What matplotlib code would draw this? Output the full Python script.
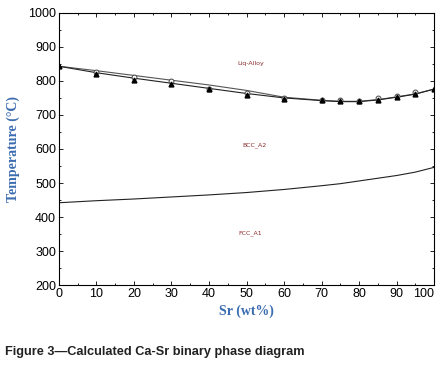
import matplotlib
matplotlib.use('Agg')
import matplotlib.pyplot as plt
import numpy as np
from matplotlib.ticker import MultipleLocator

# liquidus / solidus (calculated lines)
x_line = [0, 10, 20, 30, 40, 50, 60, 70, 75, 80, 85, 90, 95, 100]
liq_line = [843, 830, 816, 802, 788, 772, 752, 743, 740, 740, 745, 753, 762, 776]
sol_line = [843, 824, 808, 793, 778, 763, 750, 742, 739, 739, 744, 752, 761, 776]

# experimental points
x_tri = [0, 10, 20, 30, 40, 50, 60, 70, 75, 80, 85, 90, 95, 100]
t_tri = [843, 821, 804, 790, 775, 758, 748, 745, 742, 742, 745, 752, 762, 775]
x_circ = [10, 20, 30, 40, 50, 60, 70, 75, 80, 85, 90, 95]
t_circ = [827, 812, 800, 777, 763, 750, 745, 743, 742, 750, 757, 767]

# BCC/FCC transition
x_bf = [0, 10, 20, 30, 40, 50, 60, 70, 75, 80, 90, 95, 100]
t_bf = [442, 448, 453, 459, 465, 472, 481, 492, 498, 506, 522, 532, 546]

phase_names = ['Liq-Alloy', 'BCC_A2', 'FCC_A1']
phase_x = [51, 52, 51]
phase_t = [852, 612, 353]

xticks = [0, 10, 20, 30, 40, 50, 60, 70, 80, 90, 100]
yticks = [200, 300, 400, 500, 600, 700, 800, 900, 1000]

blue = '#3b6cb0'
fig = plt.figure(figsize=(4.43, 3.66), dpi=100)
ax = fig.add_axes([0.133, 0.221, 0.847, 0.744])

ax.plot(x_line, liq_line, color='#555555', lw=0.8)
ax.plot(x_line, sol_line, color='#222222', lw=0.8)
ax.plot(x_bf, t_bf, color='#222222', lw=0.8)
ax.plot(x_circ, t_circ, 'o', mfc='white', mec='#444444', ms=3.5, mew=0.7)
ax.plot(x_tri, t_tri, '^', color='black', ms=3.5)

for name, px, pt in zip(phase_names, phase_x, phase_t):
    ax.text(px, pt, name, color='#8b2b2b', fontsize=4.5, ha='center', va='center')

ax.set_xlim(0, 100)
ax.set_ylim(200, 1000)
ax.set_xticks(xticks)
ax.set_xticklabels([str(v) for v in xticks], family='Liberation Sans')
ax.set_yticks(yticks)
ax.set_yticklabels([str(v) for v in yticks], family='Liberation Sans')
ax.xaxis.set_minor_locator(MultipleLocator(5))
ax.yaxis.set_minor_locator(MultipleLocator(50))
ax.tick_params(which='both', direction='in', top=True, right=True, width=0.6)
ax.tick_params(which='major', length=3, labelsize=9, pad=2)
ax.tick_params(which='minor', length=1.5)
xlabels = ax.get_xticklabels()
xlabels[-1].set_ha('right')
xlabels[-1].set_x(101)
for s in ax.spines.values():
    s.set_linewidth(0.8)

ax.set_xlabel('Sr (wt%)', family='Liberation Serif', fontweight='bold',
              fontsize=10, color=blue, labelpad=3)
ax.set_ylabel('Temperature (°C)', family='Liberation Serif', fontweight='bold',
              fontsize=10, color=blue, labelpad=6)

fig.text(0.011, 0.03, 'Figure 3\u2014Calculated Ca-Sr binary phase diagram',
         family='Liberation Sans', fontweight='bold', fontsize=9.2, color='#222222')

fig.savefig('out.png', dpi=100)
